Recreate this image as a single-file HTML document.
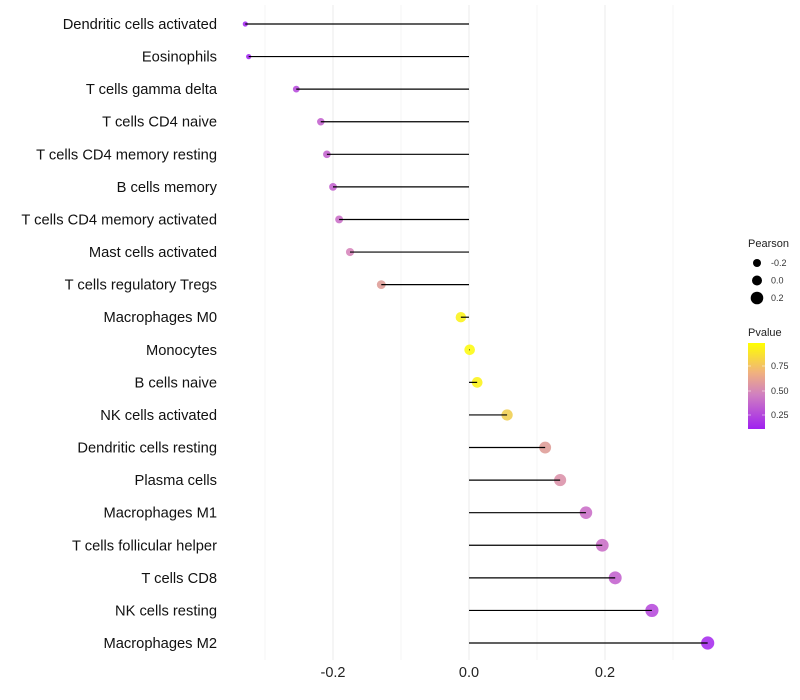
<!DOCTYPE html>
<html><head><meta charset="utf-8"><style>
body{margin:0;background:#fff;font-family:"Liberation Sans",sans-serif}
</style></head><body>
<svg id="c" width="800" height="700" style="display:block"></svg>
<script>
const categories=["Dendritic cells activated","Eosinophils","T cells gamma delta","T cells CD4 naive","T cells CD4 memory resting","B cells memory","T cells CD4 memory activated","Mast cells activated","T cells regulatory  Tregs ","Macrophages M0","Monocytes","B cells naive","NK cells activated","Dendritic cells resting","Plasma cells","Macrophages M1","T cells follicular helper","T cells CD8","NK cells resting","Macrophages M2"];
const pearson=[-0.329,-0.324,-0.254,-0.218,-0.209,-0.200,-0.191,-0.175,-0.129,-0.012,0.001,0.012,0.056,0.112,0.134,0.172,0.196,0.215,0.269,0.351];
const pvalue=[0.1,0.1,0.25,0.35,0.35,0.35,0.4,0.5,0.6,0.95,0.98,0.95,0.8,0.6,0.55,0.4,0.4,0.35,0.25,0.12];
const xTicks=[-0.2,0,0.2];
const xTickLabels=["-0.2","0.0","0.2"];
const xMinor=[-0.3,-0.1,0.1,0.3];
const NS="http://www.w3.org/2000/svg";
const svg=document.getElementById('c');
const X=v=>469+v*680;
const Y=i=>24+i*(643-24)/19;
function mk(t,a){const e=document.createElementNS(NS,t);for(const k in a)e.setAttribute(k,a[k]);svg.appendChild(e);return e;}
const R=v=>Math.min(6.6,Math.sqrt(Math.max(2.5,28+65*v)));
function lerp(a,b,t){return a.map((x,i)=>Math.round(x+(b[i]-x)*t));}
function col(p){const s=[[0.1,[160,32,240]],[0.5,[213,128,184]],[1.0,[255,255,0]]];p=Math.max(0.1,Math.min(1,p));
 for(let i=0;i<2;i++){if(p<=s[i+1][0]){const c=lerp(s[i][1],s[i+1][1],(p-s[i][0])/(s[i+1][0]-s[i][0]));return `rgb(${c})`;}}return 'rgb(255,255,0)';}
xMinor.forEach(v=>{const l=mk('line',{x1:X(v),x2:X(v),y1:5,y2:660,stroke:'#f4f4f4','stroke-width':1});
});
xTicks.forEach((v,i)=>{const l=mk('line',{x1:X(v),x2:X(v),y1:5,y2:660,stroke:'#ebebeb','stroke-width':1});

const t=mk('text',{x:X(v),y:677,'text-anchor':'middle','font-size':14.5,fill:'#222'});t.textContent=xTickLabels[i];
});
categories.forEach((c,i)=>{const y=Y(i);
const t=mk('text',{x:217,y:y+5,'text-anchor':'end','font-size':14.7,fill:'#111'});t.textContent=c;

const d=mk('circle',{cx:X(pearson[i]),cy:y,r:R(pearson[i]),fill:col(pvalue[i]),'fill-opacity':0.85});

const l=mk('line',{x1:X(0),x2:X(pearson[i]),y1:y,y2:y,stroke:'#000','stroke-width':1.2});
});
const lt=mk('text',{x:748,y:247,'font-size':11,fill:'#222'});lt.textContent='Pearson';

[[-0.2,4],[0.0,5],[0.2,6.3]].forEach((a,i)=>{const y=263+i*17.5;
const c=mk('circle',{cx:757,cy:y,r:a[1],fill:'#000'});
const t=mk('text',{x:771,y:y+3,'font-size':9,fill:'#333'});t.textContent=a[0].toFixed(1);
});
const pt=mk('text',{x:748,y:336,'font-size':11,fill:'#222'});pt.textContent='Pvalue';

const defs=mk('defs',{});defs.innerHTML='<linearGradient id="g" x1="0" y1="0" x2="0" y2="1"><stop offset="0" stop-color="#ffff00"/><stop offset="0.35" stop-color="#f0b080"/><stop offset="0.6" stop-color="#d080c0"/><stop offset="1" stop-color="#a020f0"/></linearGradient>';
const cb=mk('rect',{x:748,y:343,width:17,height:86,fill:'url(#g)'});
[[0.75,366],[0.50,391],[0.25,415]].forEach(a=>{mk('line',{x1:748,x2:751,y1:a[1],y2:a[1],stroke:'#fff','stroke-opacity':0.5});mk('line',{x1:762,x2:765,y1:a[1],y2:a[1],stroke:'#fff','stroke-opacity':0.5});
const t=mk('text',{x:771,y:a[1]+3,'font-size':9,fill:'#333'});t.textContent=a[0].toFixed(2);
});
</script>
</body></html>
